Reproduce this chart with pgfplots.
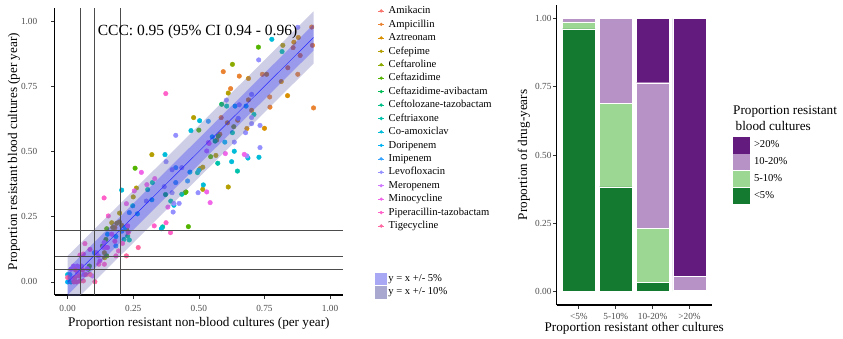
\documentclass[border=0pt]{standalone}
\usepackage{fontspec}
\setmainfont{Liberation Serif}
\usepackage{pgfplots}
\pgfplotsset{compat=1.18}
\definecolor{c01}{HTML}{F8766D}
\definecolor{c02}{HTML}{EA8331}
\definecolor{c03}{HTML}{D89000}
\definecolor{c04}{HTML}{B49F00}
\definecolor{c05}{HTML}{8CAB00}
\definecolor{c06}{HTML}{53B400}
\definecolor{c07}{HTML}{00BC56}
\definecolor{c08}{HTML}{00C088}
\definecolor{c09}{HTML}{00C1AA}
\definecolor{c10}{HTML}{00BCD8}
\definecolor{c11}{HTML}{00B2F3}
\definecolor{c12}{HTML}{35A2FF}
\definecolor{c13}{HTML}{9590FF}
\definecolor{c14}{HTML}{CF78FF}
\definecolor{c15}{HTML}{F166E8}
\definecolor{c16}{HTML}{FF61C9}
\definecolor{c17}{HTML}{FF68A0}
\definecolor{bandout}{HTML}{7373B8}
\definecolor{keyfive}{HTML}{A8A8F5}
\definecolor{keyten}{HTML}{A8A8D0}
\definecolor{rgt}{HTML}{631C7D}
\definecolor{rten}{HTML}{B792C6}
\definecolor{rfive}{HTML}{9CD894}
\definecolor{rlt}{HTML}{147A2F}
\definecolor{ticklab}{HTML}{4D4D4D}
\pgfplotsset{
  ggaxis/.style={
    scale only axis,
    axis lines=left,
    axis line style={-, line width=1.1pt, black},
    tick align=outside,
    major tick length=3.5pt,
    tick style={line width=0.7pt, black!80},
    tick label style={font=\fontsize{9.3}{10}\selectfont, color=ticklab, inner sep=0pt},
    label style={font=\fontsize{13.2}{14}\selectfont, inner sep=0pt},
  },
  pt/.style={only marks, mark=*, mark size=2.3pt, color=#1, mark options={draw=none, fill=#1},
    legend image code/.code={\path (0pt,0pt) -- (6pt,0pt); \path[fill=#1, draw=none] (3pt,0pt) circle[radius=1.8pt];}},
}
\begin{document}
\begin{tikzpicture}
\useasboundingbox (0pt,0pt) rectangle (843pt,-339pt);
% ---------------- left panel ----------------
\begin{axis}[ggaxis,
  at={(54.5pt,-295pt)}, anchor=south west,
  width=288.7pt, height=287pt,
  xmin=-0.05, xmax=1.05, ymin=-0.05, ymax=1.05,
  xtick={0,0.25,0.5,0.75,1}, ytick={0,0.25,0.5,0.75,1},
  /pgf/number format/assume math mode=true,
  xticklabel style={/pgf/number format/.cd, fixed, fixed zerofill, precision=2, /tikz/.cd, anchor=center, yshift=-10pt},
  yticklabel style={/pgf/number format/.cd, fixed, fixed zerofill, precision=2, /tikz/.cd, anchor=east, xshift=-13.5pt},
  xlabel={Proportion resistant non-blood cultures (per year)},
  ylabel={Proportion resistant blood cultures (per year)},
  xlabel style={at={(axis description cs:0.5,-0.0976)}, anchor=center},
  ylabel style={at={(axis description cs:-0.1403,0.5)}, anchor=center},
  clip mode=individual,
  legend cell align=left,
  legend style={draw=none, fill=none, inner sep=0pt, outer sep=0pt,
    at={(axis description cs:1.1206,1.008)}, anchor=north west,
    font=\fontsize{10.6}{12}\selectfont,
    nodes={inner sep=0pt, text height=8pt, text depth=2.5pt},
    row sep=2.94pt, column sep=4.3pt},
]
\addlegendimage{pt=c01}
\addlegendentry{Amikacin}
\addplot[pt=c02] coordinates {(0.930,0.977)(0.933,0.907)(0.859,0.898)(0.886,0.868)(0.839,0.821)(0.593,0.806)(0.654,0.789)(0.742,0.796)(0.877,0.796)(0.621,0.741)(0.770,0.709)(0.771,0.670)(0.937,0.667)(0.585,0.630)};
\addlegendentry{Ampicillin}
\addplot[pt=c03] coordinates {(0.879,0.937)(0.862,0.919)(0.689,0.780)(0.758,0.796)(0.814,0.768)(0.838,0.714)(0.689,0.698)(0.701,0.658)(0.580,0.566)(0.609,0.610)(0.648,0.620)(0.683,0.588)(0.750,0.589)(0.180,0.208)};
\addlegendentry{Aztreonam}
\addplot[pt=c04] coordinates {(0.820,0.907)(0.612,0.724)(0.480,0.630)(0.568,0.544)(0.565,0.485)(0.321,0.488)(0.262,0.360)(0.250,0.326)(0.198,0.264)(0.505,0.434)(0.515,0.440)(0.515,0.355)(0.612,0.364)(0.172,0.209)(0.168,0.227)(0.197,0.230)(0.225,0.202)(0.140,0.112)(0.141,0.093)(0.187,0.225)(0.206,0.217)};
\addlegendentry{Cefepime}
\addplot[pt=c05] coordinates {(0.628,0.834)(0.633,0.595)};
\addlegendentry{Ceftaroline}
\addplot[pt=c06] coordinates {(0.727,0.900)(0.500,0.582)(0.574,0.559)(0.545,0.480)(0.257,0.436)(0.447,0.342)(0.451,0.345)(0.460,0.212)(0.149,0.204)(0.146,0.163)(0.133,0.138)(0.149,0.100)(0.079,0.049)(0.083,0.061)};
\addlegendentry{Ceftazidime}
\addplot[pt=c07] coordinates {(0.587,0.681)(0.562,0.540)(0.373,0.335)};
\addlegendentry{Ceftazidime-avibactam}
\addplot[pt=c08] coordinates {(0.229,0.176)};
\addlegendentry{Ceftolozane-tazobactam}
\addplot[pt=c09] coordinates {(0.817,0.883)(0.606,0.674)(0.710,0.642)(0.628,0.572)(0.572,0.455)(0.647,0.425)(0.323,0.381)(0.305,0.354)(0.495,0.419)(0.435,0.336)(0.393,0.310)(0.362,0.211)(0.215,0.163)(0.235,0.161)};
\addlegendentry{Ceftriaxone}
\addplot[pt=c10] coordinates {(0.778,0.930)(0.503,0.618)(0.470,0.580)(0.635,0.501)(0.687,0.475)(0.729,0.478)(0.625,0.461)(0.371,0.488)(0.206,0.352)(0.248,0.292)(0.500,0.428)(0.517,0.372)(0.405,0.294)(0.357,0.204)(0,0.028)(0.013,0)(0.015,0.010)};
\addlegendentry{Co-amoxiclav}
\addplot[pt=c11] coordinates {(0.638,0.674)(0.680,0.674)(0.551,0.556)(0.599,0.536)(0.321,0.315)(0.266,0.261)(0.466,0.421)(0.219,0.209)(0.184,0.174)(0.152,0.183)(0,0)(0.006,0.023)};
\addlegendentry{Doripenem}
\addplot[pt=c12] coordinates {(0.536,0.616)(0.235,0.266)(0.412,0.381)(0.412,0.438)(0.457,0.387)(0.207,0.195)(0.102,0.112)(0.184,0.138)(0.009,0.028)};
\addlegendentry{Imipenem}
\addplot[pt=c13] coordinates {(0.877,0.976)(0.728,0.851)(0.701,0.719)(0.605,0.697)(0.654,0.679)(0.701,0.630)(0.650,0.627)(0.412,0.562)(0.678,0.572)(0.701,0.607)(0.733,0.600)(0.635,0.536)(0.733,0.515)(0.683,0.483)(0.375,0.461)(0.300,0.310)(0.368,0.365)(0.398,0.342)(0.398,0.430)(0.435,0.438)(0.497,0.342)(0.405,0.301)(0.425,0.301)(0.402,0.268)};
\addlegendentry{Levofloxacin}
\addplot[pt=c14] coordinates {(0.536,0.534)(0.530,0.502)(0.139,0.151)(0.136,0.132)(0.117,0.100)(0.110,0.112)(0.075,0.051)(0.019,0.013)(0.013,0.049)(0.022,0.061)(0.038,0.033)(0.053,0.061)(0.062,0.028)(0.095,0.023)(0.047,0.049)(0.037,0.061)};
\addlegendentry{Meropenem}
\addplot[pt=c15] coordinates {(0.539,0.531)(0.601,0.492)(0.673,0.489)(0.281,0.420)(0.302,0.373)(0.332,0.396)(0.254,0.349)(0.224,0.300)(0.530,0.345)(0.543,0.304)(0.382,0.287)(0.229,0.215)(0.168,0.183)(0.146,0.132)(0.152,0.132)(0.123,0.080)};
\addlegendentry{Minocycline}
\addplot[pt=c16] coordinates {(0.374,0.722)(0.139,0.322)(0.155,0.253)(0.375,0.227)(0.330,0.215)(0.392,0.189)(0.119,0.068)(0.140,0.068)(0.085,0.125)(0.066,0.147)(0.047,0.103)(0.060,0.107)(0.180,0.156)(0.209,0.148)(0.194,0.119)(0.184,0.100)};
\addlegendentry{Piperacillin-tazobactam}
\addplot[pt=c17] coordinates {(0.224,0.100)(0.269,0.132)(0.231,0.189)(0,0.017)(0.024,0)(0.034,0)(0.030,0.046)(0.044,0.023)(0.057,0.046)(0.070,0.028)(0.085,0.029)(0.104,0.001)(0.047,0.003)(0.060,0.004)(0.028,0.017)};
\addlegendentry{Tigecycline}
% bands over the points
\addplot[forget plot, draw=none, fill=bandout, fill opacity=0.35] coordinates {(0,-0.1)(0.937,0.837)(0.937,1.037)(0,0.1)(0,-0.1)};
\addplot[forget plot, draw=none, fill=blue, fill opacity=0.25] coordinates {(0,-0.05)(0.937,0.887)(0.937,0.987)(0,0.05)(0,-0.05)};
\addplot[forget plot, blue!85!white, line width=0.45pt] coordinates {(0,0)(0.937,0.937)};
% reference lines
\addplot[forget plot, black!70, line width=0.5pt] coordinates {(0.05,-0.05)(0.05,1.05)};
\addplot[forget plot, black!70, line width=0.5pt] coordinates {(0.1,-0.05)(0.1,1.05)};
\addplot[forget plot, black!70, line width=0.5pt] coordinates {(0.2,-0.05)(0.2,1.05)};
\addplot[forget plot, black!70, line width=0.5pt] coordinates {(-0.05,0.05)(1.05,0.05)};
\addplot[forget plot, black!70, line width=0.5pt] coordinates {(-0.05,0.1)(1.05,0.1)};
\addplot[forget plot, black!70, line width=0.5pt] coordinates {(-0.05,0.2)(1.05,0.2)};
\node[font=\fontsize{15.5}{16}\selectfont, inner sep=0pt] at (axis cs:0.495,0.957) {CCC: 0.95 (95\% CI 0.94 - 0.96)};
\end{axis}
% band legend
\begin{axis}[hide axis, scale only axis, at={(375pt,-301pt)}, anchor=south west,
  width=60pt, height=30pt, xmin=0, xmax=1, ymin=0, ymax=1,
  legend cell align=left,
  legend image code/.code={\fill[#1] (0pt,-6.15pt) rectangle (12.3pt,6.15pt);},
  legend style={draw=none, fill=none, inner sep=0pt, outer sep=0pt,
    at={(0,0.9333)}, anchor=north west,
    font=\fontsize{10.6}{12}\selectfont,
    nodes={inner sep=0pt, text height=7.5pt, text depth=2.5pt},
    row sep=1pt, column sep=1pt},
]
\addlegendimage{fill=keyfive, draw=none}
\addlegendentry{y = x +/- 5\%}
\addlegendimage{fill=keyten, draw=none}
\addlegendentry{y = x +/- 10\%}
\end{axis}
% ---------------- right panel ----------------
\begin{axis}[ggaxis,
  at={(556.7pt,-305pt)}, anchor=south west,
  width=155pt, height=300pt,
  xmin=0.4, xmax=4.6, ymin=-0.05, ymax=1.05,
  ybar stacked, bar width=0.9,
  xtick={1,2,3,4}, xticklabels={<5\%, 5-10\%, 10-20\%, >20\%},
  ytick={0,0.25,0.5,0.75,1},
  /pgf/number format/assume math mode=true,
  xticklabel style={anchor=center, yshift=-7.5pt},
  yticklabel style={/pgf/number format/.cd, fixed, fixed zerofill, precision=2, /tikz/.cd, anchor=east, xshift=-1.5pt},
  xlabel={Proportion resistant other cultures},
  ylabel={Proportion of drug-years},
  xlabel style={at={(axis description cs:0.5,-0.0767)}, anchor=center},
  ylabel style={at={(axis description cs:-0.211,0.5)}, anchor=center},
  reverse legend,
  legend cell align=left,
  legend image code/.code={\fill[#1, draw=none] (0pt,-8.25pt) rectangle (17.3pt,8.25pt);},
  legend style={draw=none, fill=none, inner sep=0pt, outer sep=0pt,
    at={(axis description cs:1.1355,0.56)}, anchor=north west,
    font=\fontsize{10.6}{12}\selectfont,
    nodes={inner sep=0pt, text height=10.8pt, text depth=6pt},
    row sep=0pt, column sep=4pt},
]
\addplot[fill=rlt, draw=white, line width=0.4pt] coordinates {(1,0.962)(2,0.383)(3,0.033)(4,0)};
\addlegendentry{<5\%}
\addplot[fill=rfive, draw=white, line width=0.4pt] coordinates {(1,0.026)(2,0.307)(3,0.198)(4,0.005)};
\addlegendentry{5-10\%}
\addplot[fill=rten, draw=white, line width=0.4pt] coordinates {(1,0.012)(2,0.310)(3,0.534)(4,0.050)};
\addlegendentry{10-20\%}
\addplot[fill=rgt, draw=white, line width=0.4pt] coordinates {(1,0)(2,0)(3,0.235)(4,0.945)};
\addlegendentry{>20\%}
\end{axis}
\node[anchor=west, inner sep=0pt, font=\fontsize{13.2}{14}\selectfont] at (733pt,-112pt) {Proportion resistant};
\node[anchor=west, inner sep=0pt, font=\fontsize{13.2}{14}\selectfont] at (735.5pt,-126pt) {blood cultures};
\end{tikzpicture}
\end{document}
